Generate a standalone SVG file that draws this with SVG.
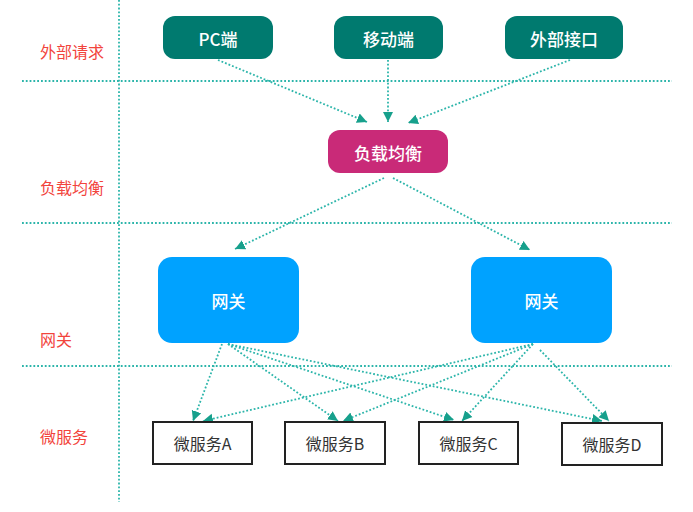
<svg xmlns="http://www.w3.org/2000/svg" width="693" height="512" viewBox="0 0 693 512">
<style>
.grid{stroke:#2cb5aa;stroke-width:1.8;stroke-dasharray:1.8 2;fill:none}
.lane{font-family:"Noto Sans CJK SC","Liberation Sans",sans-serif;font-size:16px;fill:#f2443c}
.conn{stroke:#2cb5aa;stroke-width:1.8;stroke-dasharray:1.8 2;fill:none;marker-end:url(#arr)}
.nt{font-family:"Noto Sans CJK SC","Liberation Sans",sans-serif;font-size:17px;font-weight:500;fill:#ffffff;text-anchor:middle;dominant-baseline:central}
.mt{font-family:"Noto Sans CJK SC","Liberation Sans",sans-serif;font-size:16px;fill:#333333;text-anchor:middle;dominant-baseline:central}
.client{fill:#007a6f}
.lb{fill:#c92a78}
.gw{fill:#00a2ff}
.ms{fill:#ffffff;stroke:#222222;stroke-width:2}
</style>
<defs>
<marker id="arr" viewBox="0 0 10 10" refX="10" refY="5" markerWidth="10" markerHeight="11" markerUnits="userSpaceOnUse" orient="auto">
<path d="M0,0 L10,5 L0,10 z" fill="#17a08c"/>
</marker>
</defs>
<rect width="693" height="512" fill="#ffffff"/>
<g id="grid">
<line class="grid" x1="119" y1="0" x2="119" y2="502"/>
<line class="grid" x1="22" y1="81" x2="672" y2="81"/>
<line class="grid" x1="22" y1="223" x2="672" y2="223"/>
<line class="grid" x1="22" y1="366" x2="672" y2="366"/>
</g>
<g id="lanes">
<text class="lane" x="40" y="58">外部请求</text>
<text class="lane" x="40" y="194">负载均衡</text>
<text class="lane" x="40" y="346">网关</text>
<text class="lane" x="40" y="443">微服务</text>
</g>
<g id="connectors">
<line class="conn" x1="218" y1="60" x2="367" y2="122"/>
<line class="conn" x1="388" y1="60" x2="388" y2="122"/>
<line class="conn" x1="570" y1="60" x2="408" y2="123"/>
<line class="conn" x1="384" y1="178" x2="235" y2="249"/>
<line class="conn" x1="393" y1="178" x2="530" y2="250"/>
<line class="conn" x1="222" y1="344" x2="193" y2="421"/>
<line class="conn" x1="228" y1="344" x2="338" y2="421"/>
<line class="conn" x1="228" y1="344" x2="454" y2="420"/>
<line class="conn" x1="228" y1="344" x2="602" y2="421"/>
<line class="conn" x1="533" y1="344" x2="203" y2="421"/>
<line class="conn" x1="533" y1="344" x2="343" y2="421"/>
<line class="conn" x1="533" y1="344" x2="462" y2="421"/>
<line class="conn" x1="540" y1="350" x2="609" y2="421"/>
</g>
<g id="pc">
<rect class="client" x="163" y="16" width="110" height="43" rx="12"/>
<text class="nt" x="218" y="38">PC端</text>
</g>
<g id="mobile">
<rect class="client" x="334" y="16" width="109" height="43" rx="12"/>
<text class="nt" x="388.5" y="38">移动端</text>
</g>
<g id="external">
<rect class="client" x="505" y="16" width="118" height="43" rx="12"/>
<text class="nt" x="564" y="38">外部接口</text>
</g>
<g id="loadbalancer">
<rect class="lb" x="328" y="130" width="120" height="43" rx="12"/>
<text class="nt" x="388" y="152">负载均衡</text>
</g>
<g id="gateway1">
<rect class="gw" x="158" y="257" width="141" height="86" rx="14"/>
<text class="nt" x="228.5" y="300">网关</text>
</g>
<g id="gateway2">
<rect class="gw" x="471" y="257" width="141" height="86" rx="14"/>
<text class="nt" x="541.5" y="300">网关</text>
</g>
<g id="msA">
<rect class="ms" x="153" y="422" width="99" height="42"/>
<text class="mt" x="202.5" y="443">微服务A</text>
</g>
<g id="msB">
<rect class="ms" x="285" y="422" width="100" height="42"/>
<text class="mt" x="335" y="443">微服务B</text>
</g>
<g id="msC">
<rect class="ms" x="419" y="422" width="99" height="42"/>
<text class="mt" x="468.5" y="443">微服务C</text>
</g>
<g id="msD">
<rect class="ms" x="562" y="423" width="100" height="42"/>
<text class="mt" x="612" y="444">微服务D</text>
</g>
</svg>
